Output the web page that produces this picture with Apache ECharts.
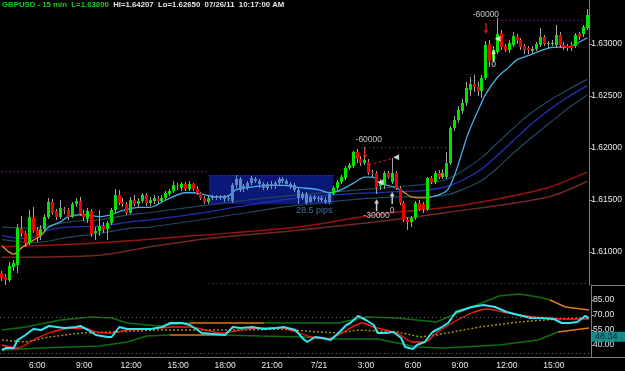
<!DOCTYPE html>
<html><head><meta charset="utf-8">
<script src="https://cdn.jsdelivr.net/npm/echarts@6/dist/echarts.min.js"></script>
<style>html,body{margin:0;padding:0;background:#000;}#c{width:625px;height:371px;}</style>
</head><body><div id="c"></div>
<script>
// ---------- DATA ----------
const dates = ['7/20', '7/21'];
const startMinute = 3 * 60 + 45; // first bar 03:45, 15-minute bars
const priceTicks = [1.61, 1.615, 1.62, 1.625, 1.63];
const oscTicks = [40, 55, 70, 85];

const openP = [1.6080,1.6076,1.6073,1.6086,1.6088,1.6122,1.6118,1.6109,1.6134,1.6121,
1.6115,1.6122,1.6134,1.6148,1.6139,1.6134,1.6141,1.6140,1.6134,1.6146,
1.6149,1.6137,1.6132,1.6139,1.6118,1.6120,1.6125,1.6122,1.6128,1.6140,
1.6155,1.6148,1.6146,1.6138,1.6150,1.6146,1.6149,1.6155,1.6147,1.6149,
1.6151,1.6149,1.6152,1.6156,1.6159,1.6164,1.6162,1.6165,1.6161,1.6165,
1.6161,1.6157,1.6152,1.6148,1.6152,1.6153,1.6152,1.6153,1.6151,1.6149,
1.6164,1.6170,1.6161,1.6162,1.6166,1.6170,1.6168,1.6165,1.6162,1.6165,
1.6163,1.6166,1.6170,1.6168,1.6165,1.6164,1.6160,1.6152,1.6156,1.6148,
1.6153,1.6151,1.6152,1.6150,1.6148,1.6156,1.6162,1.6167,1.6171,1.6181,
1.6183,1.6196,1.6189,1.6186,1.6187,1.6176,1.6176,1.6163,1.6164,1.6176,
1.6167,1.6176,1.6162,1.6147,1.6131,1.6129,1.6133,1.6147,1.6146,1.6141,
1.6171,1.6167,1.6176,1.6172,1.6172,1.6186,1.6219,1.6227,1.6236,1.6243,
1.6256,1.6262,1.6259,1.6255,1.6267,1.6300,1.6285,1.6292,1.6311,1.6298,
1.6294,1.6299,1.6307,1.6304,1.6298,1.6296,1.6293,1.6295,1.6299,1.6307,
1.6300,1.6300,1.6299,1.6309,1.6299,1.6298,1.6299,1.6298,1.6310,1.6310,1.6315];

const closeP = [1.6075,1.6073,1.6087,1.6089,1.6123,1.6118,1.6109,1.6134,1.6120,1.6114,
1.6122,1.6134,1.6148,1.6138,1.6134,1.6142,1.6140,1.6134,1.6146,1.6149,
1.6137,1.6134,1.6139,1.6117,1.6120,1.6125,1.6122,1.6128,1.6140,1.6155,
1.6147,1.6146,1.6138,1.6150,1.6146,1.6149,1.6155,1.6147,1.6150,1.6152,
1.6149,1.6152,1.6157,1.6159,1.6164,1.6163,1.6165,1.6161,1.6165,1.6161,
1.6157,1.6152,1.6148,1.6152,1.6153,1.6152,1.6153,1.6151,1.6152,1.6164,
1.6170,1.6160,1.6163,1.6166,1.6171,1.6168,1.6165,1.6162,1.6165,1.6163,
1.6166,1.6170,1.6168,1.6165,1.6163,1.6160,1.6152,1.6156,1.6147,1.6153,
1.6151,1.6152,1.6150,1.6148,1.6156,1.6162,1.6167,1.6172,1.6181,1.6184,
1.6196,1.6189,1.6186,1.6188,1.6176,1.6175,1.6162,1.6166,1.6176,1.6172,
1.6176,1.6162,1.6147,1.6131,1.6129,1.6133,1.6147,1.6141,1.6141,1.6171,
1.6167,1.6176,1.6172,1.6176,1.6186,1.6219,1.6227,1.6237,1.6243,1.6258,
1.6262,1.6259,1.6255,1.6267,1.6299,1.6284,1.6294,1.6310,1.6297,1.6294,
1.6301,1.6308,1.6304,1.6297,1.6294,1.6294,1.6295,1.6300,1.6307,1.6300,
1.6301,1.6301,1.6309,1.6299,1.6297,1.6296,1.6296,1.6309,1.6307,1.6316,1.6328];

const lowP = [1.6072,1.6068,1.6071,1.6082,1.6080,1.6114,1.6105,1.6107,1.6118,1.6110,
1.6112,1.6120,1.6132,1.6136,1.6131,1.6132,1.6137,1.6131,1.6133,1.6143,
1.6135,1.6130,1.6128,1.6114,1.6112,1.6115,1.6118,1.6112,1.6126,1.6138,
1.6145,1.6143,1.6136,1.6137,1.6144,1.6143,1.6147,1.6144,1.6144,1.6146,
1.6147,1.6147,1.6150,1.6154,1.6157,1.6160,1.6159,1.6159,1.6159,1.6159,
1.6155,1.6150,1.6146,1.6146,1.6150,1.6150,1.6150,1.6148,1.6149,1.6147,
1.6162,1.6158,1.6158,1.6160,1.6164,1.6166,1.6162,1.6160,1.6160,1.6161,
1.6161,1.6164,1.6166,1.6163,1.6161,1.6158,1.6146,1.6150,1.6146,1.6147,
1.6149,1.6148,1.6148,1.6146,1.6146,1.6155,1.6160,1.6165,1.6169,1.6179,
1.6181,1.6186,1.6183,1.6184,1.6174,1.6172,1.6156,1.6160,1.6161,1.6170,
1.6165,1.6160,1.6145,1.6129,1.6121,1.6124,1.6131,1.6139,1.6138,1.6139,
1.6165,1.6165,1.6170,1.6170,1.6170,1.6184,1.6216,1.6224,1.6233,1.6240,
1.6250,1.6254,1.6250,1.6248,1.6265,1.6278,1.6283,1.6290,1.6294,1.6292,
1.6291,1.6297,1.6300,1.6294,1.6290,1.6290,1.6290,1.6293,1.6297,1.6298,
1.6296,1.6298,1.6296,1.6296,1.6294,1.6293,1.6293,1.6296,1.6304,1.6307,1.6313];

const highP = [1.6082,1.6079,1.6090,1.6092,1.6127,1.6135,1.6120,1.6140,1.6143,1.6124,
1.6126,1.6137,1.6152,1.6151,1.6141,1.6150,1.6143,1.6142,1.6148,1.6152,
1.6153,1.6140,1.6142,1.6141,1.6124,1.6140,1.6129,1.6130,1.6142,1.6161,
1.6160,1.6152,1.6148,1.6153,1.6155,1.6152,1.6157,1.6157,1.6153,1.6155,
1.6154,1.6155,1.6159,1.6161,1.6168,1.6166,1.6167,1.6167,1.6168,1.6166,
1.6163,1.6158,1.6154,1.6154,1.6155,1.6155,1.6155,1.6155,1.6154,1.6166,
1.6174,1.6172,1.6165,1.6168,1.6173,1.6172,1.6170,1.6167,1.6167,1.6168,
1.6168,1.6172,1.6172,1.6170,1.6167,1.6166,1.6162,1.6158,1.6158,1.6155,
1.6155,1.6154,1.6154,1.6153,1.6158,1.6163,1.6169,1.6174,1.6183,1.6186,
1.6197,1.6199,1.6192,1.6201,1.6189,1.6179,1.6178,1.6170,1.6178,1.6178,
1.6190,1.6178,1.6163,1.6149,1.6134,1.6135,1.6149,1.6150,1.6148,1.6172,
1.6173,1.6178,1.6179,1.6180,1.6196,1.6221,1.6231,1.6240,1.6247,1.6263,
1.6268,1.6270,1.6263,1.6270,1.6303,1.6304,1.6298,1.6325,1.6313,1.6300,
1.6304,1.6312,1.6310,1.6306,1.6300,1.6298,1.6298,1.6302,1.6315,1.6309,
1.6303,1.6304,1.6318,1.6312,1.6302,1.6300,1.6302,1.6311,1.6312,1.6318,1.6334];

// moving averages: [bar index, price]
const emaFast = [[0,1.6106],[3,1.6098],[5,1.6104],[7,1.6109],[10,1.6116],[12,1.6124],[15,1.6129],[17,1.6134],[21,1.6136],[25,1.6134],[28,1.6136],[31,1.6140],[35,1.6143],[38,1.6143],[42,1.6150],[47,1.6157],[49,1.6157],[52,1.6155],[55,1.6153],[58,1.6154],[60,1.6160],[63,1.6162],[68,1.6164],[72,1.6164],[76,1.6162],[81,1.6160],[84,1.6157],[87,1.6160],[90,1.6166],[93,1.6172],[95,1.6172],[97,1.6166],[100,1.6163],[102,1.6160],[105,1.6153],[108,1.6152],[110,1.6153],[112,1.6155],[114,1.6159],[115,1.6165],[116,1.6174],[117,1.6185],[118,1.6197],[119,1.6209],[120,1.6219],[122,1.6236],[124,1.6252],[127,1.6268],[130,1.6278],[132,1.6285],[135,1.6289],[137,1.6292],[140,1.6296],[142,1.6297],[145,1.6297],[147,1.6300],[150,1.6306]];
const emaMid = [[0,1.6116],[5,1.6113],[8,1.6114],[12,1.6121],[17,1.6124],[25,1.6125],[33,1.6129],[38,1.6131],[50,1.6137],[63,1.6145],[76,1.6152],[89,1.6156],[102,1.6158],[108,1.6159],[114,1.6163],[118,1.6169],[123,1.6180],[127,1.6193],[131,1.6207],[135,1.6221],[140,1.6236],[145,1.6249],[150,1.6260]];
const envUp = [[0,1.6124],[8,1.6123],[17,1.6129],[25,1.6131],[33,1.6136],[38,1.6138],[63,1.6150],[76,1.6155],[102,1.6163],[108,1.6165],[114,1.6170],[118,1.6178],[123,1.6191],[127,1.6205],[131,1.6219],[135,1.6232],[140,1.6245],[145,1.6256],[150,1.6266]];
const envDn = [[0,1.6112],[8,1.6109],[17,1.6114],[25,1.6118],[33,1.6123],[38,1.6124],[63,1.6138],[76,1.6145],[102,1.6153],[108,1.6153],[114,1.6155],[118,1.6160],[123,1.6169],[127,1.6181],[131,1.6195],[135,1.6208],[140,1.6223],[145,1.6238],[150,1.6251]];
const emaSlow = [[0,1.6105],[25,1.6109],[50,1.6116],[76,1.6124],[96,1.6136],[114,1.6143],[127,1.6151],[140,1.6162],[150,1.6177]];
const smaSlow = [[0,1.6095],[25,1.6097],[38,1.6105],[53,1.6113],[76,1.6121],[96,1.6129],[114,1.6138],[140,1.6153],[150,1.6168]];

// oscillator panel: [bar index, value]
const oscMain = [[0,35],[1,37],[3,37],[4,45],[6,50],[8,56],[10,55],[12,59],[14,58],[16,57],[19,58],[20,59],[22,55],[24,50],[27,48],[28,48],[30,58],[32,56],[35,56],[38,56],[41,58],[43,62],[46,62],[48,60],[50,55],[51,52],[54,51],[57,50],[59,58],[61,57],[64,58],[67,56],[70,57],[72,58],[75,55],[77,46],[78,43],[80,48],[82,47],[84,45],[86,52],[88,60],[89,62],[91,69],[93,65],[95,60],[96,52],[98,52],[100,53],[102,47],[103,38],[105,36],[106,40],[108,43],[110,53],[112,57],[114,62],[116,73],[120,78],[123,80],[126,78],[129,73],[132,70],[135,67],[138,67],[141,66],[143,62],[145,62],[147,63],[149,69],[150,67]];
const oscSignal = [[0,40],[4,37],[8,45],[12,52],[16,56],[21,57],[24,53],[28,52],[32,55],[38,56],[44,58],[48,58],[52,55],[56,52],[61,55],[66,57],[71,57],[76,52],[79,48],[83,46],[86,50],[89,57],[92,62],[95,58],[98,55],[101,52],[105,43],[108,43],[111,52],[115,62],[120,72],[124,76],[128,73],[132,70],[136,68],[140,67],[144,66],[148,66],[150,66]];
const oscSlow = [[0,45],[6,43],[12,48],[20,52],[28,53],[40,55],[50,55],[61,55],[71,56],[81,53],[86,52],[91,55],[101,53],[107,48],[111,50],[122,58],[132,63],[142,66],[150,67]];
const oscBandHi = [[0,55],[6,58],[15,65],[23,68],[28,67],[32,62],[40,59],[48,62],[67,62],[76,62],[86,62],[93,68],[101,67],[111,63],[120,78],[127,89],[132,91],[137,88],[140,85],[144,78],[150,75]];
const oscBandLo = [[0,35],[10,37],[25,39],[32,43],[37,49],[43,50],[56,50],[66,49],[77,48],[86,46],[96,46],[106,38],[113,37],[127,40],[137,45],[142,53],[150,57]];
const oscLastValue = 48.34;
const oscLevels = [68, 32];

// annotations
const box = {from: 53, to: 85, top: 1.6174, bottom: 1.6146, label: '28.5 pips', labelAt: [80, 1.6140]};
const levelLines = [{from:0,to:53,price:1.6178},{from:53,to:85,price:1.6174},{from:92,to:114,price:1.6201},{from:125,to:150,price:1.6323},{from:53,to:150,price:1.6070},{from:119,to:122,price:1.6271}];
const trendDash = [[94,1.6184],[100,1.6190]];
const upArrows = [[96,1.6145],[100,1.6152],[126,1.6289]];
const downArrows = [[93,1.6195],[124,1.6315]];
const leftMarks = [[101,1.6191],[97,1.6167],[127,1.6305]];
const notes = [{text:'-60000',at:[94,1.6208]},{text:'-30000',at:[96,1.6135]},{text:'0',at:[100,1.6140]},{text:'-60000',at:[124,1.6328]},{text:'0',at:[126,1.6280]}];
const header = {symbol:'GBPUSD - 15 min', last:'L=1.63800', rest:'Hi=1.64207  Lo=1.62650  07/26/11  10:17:00 AM'};

// ---------- CHART ----------
const FONT = 'Liberation Sans, Arial, sans-serif';
const N = openP.length;
const categories = [];
for (let i = 0; i < N; i++) {
  const m = startMinute + 15 * i, d = Math.floor(m / 1440), mm = m % 1440;
  const h = Math.floor(mm / 60), mi = mm % 60;
  categories.push(h === 0 && mi === 0 ? dates[d] : h + ':' + (mi < 10 ? '0' : '') + mi);
}
const candleData = openP.map((o, i) => [i, o, closeP[i], lowP[i], highP[i]]);

const ORANGE = '#d8921c', LIGHTBLUE = '#4aaee6', GREEN = '#0d6e0d', BANDORANGE = '#e0780e';

function renderCandle(params, api) {
  const i = api.value(0), o = api.value(1), c = api.value(2), l = api.value(3), h = api.value(4);
  const pO = api.coord([i, o]), pC = api.coord([i, c]), pL = api.coord([i, l]), pH = api.coord([i, h]);
  const cx = Math.round(pO[0] - 0.5);
  const inBox = i > box.from && i < box.to;
  const bodyColor = inBox ? '#5a88c2' : (c >= o ? '#00e400' : '#f20000');
  const wickColor = inBox ? '#6f9ad0' : '#a4a4a4';
  const top = Math.round(Math.min(pO[1], pC[1])), bot = Math.round(Math.max(pO[1], pC[1]));
  return {type: 'group', children: [
    {type: 'rect', shape: {x: cx, y: Math.round(pH[1]), width: 1, height: Math.max(1, Math.round(pL[1]) - Math.round(pH[1]))}, style: {fill: wickColor}},
    {type: 'rect', shape: {x: cx - 1, y: top, width: 3, height: Math.max(1, bot - top)}, style: {fill: bodyColor}}
  ]};
}

function mainLine(name, data, color, width, extra) {
  return Object.assign({type: 'line', name, data, xAxisIndex: 0, yAxisIndex: 0, symbol: 'none', smooth: 0.3,
    lineStyle: color ? {color, width} : {width}, silent: true, z: 2}, extra || {});
}
function oscLine(name, data, color, width, extra) {
  return Object.assign({type: 'line', name, data, xAxisIndex: 1, yAxisIndex: 1, symbol: 'none',
    lineStyle: color ? {color, width} : {width}, silent: true, z: 2}, extra || {});
}

const series = [
  mainLine('smaSlow', smaSlow, '#6e2a22', 1.5, {z: 1, markArea: {silent: true, itemStyle: {color: '#0c1877'},
    data: [[{xAxis: box.from, yAxis: box.top}, {xAxis: box.to, yAxis: box.bottom}]]}}),
  mainLine('emaSlow', emaSlow, '#9c1010', 1.5),
  mainLine('envUp', envUp, '#23465e', 1.2),
  mainLine('envDn', envDn, '#23465e', 1.2),
  mainLine('emaMid', emaMid, '#2030b8', 1.3),
  mainLine('emaFast', emaFast, null, 1.3),
  {type: 'custom', name: 'price', xAxisIndex: 0, yAxisIndex: 0, data: candleData, renderItem: renderCandle,
    encode: {x: 0, y: [1, 2, 3, 4]}, z: 3, clip: true, silent: true},
  {type: 'scatter', name: 'notes', xAxisIndex: 0, yAxisIndex: 0, z: 5, silent: true, symbolSize: 1,
    itemStyle: {color: 'rgba(0,0,0,0)'},
    data: notes.map(n => ({name: n.text, value: n.at})).concat([{name: box.label, value: box.labelAt,
      label: {color: '#5a8ac6', fontSize: 9}}]),
    label: {show: true, position: 'inside', formatter: '{b}', color: '#f0f0f0', fontSize: 8.5, fontFamily: FONT},
    markLine: {silent: true, symbol: 'none', label: {show: false}, animation: false,
      data: levelLines.map(d => [{coord: [d.from, d.price], lineStyle: {color: '#8a2b9a', type: [1, 3], width: 1}},
                                  {coord: [d.to, d.price]}])
        .concat([[{coord: trendDash[0], lineStyle: {color: '#c81e1e', type: [3, 2], width: 1}}, {coord: trendDash[1]}]])}},
  {type: 'scatter', name: 'up', xAxisIndex: 0, yAxisIndex: 0, z: 6, silent: true, data: upArrows,
    symbol: 'path://M5,0 L10,5 L6.5,5 L6.5,14 L3.5,14 L3.5,5 L0,5 Z', symbolSize: [5, 12], itemStyle: {color: '#ffffff'}},
  {type: 'scatter', name: 'down', xAxisIndex: 0, yAxisIndex: 0, z: 6, silent: true, data: downArrows,
    symbol: 'path://M3.5,0 L6.5,0 L6.5,9 L10,9 L5,14 L0,9 L3.5,9 Z', symbolSize: [5, 11], itemStyle: {color: '#ff1010'}},
  {type: 'scatter', name: 'marks', xAxisIndex: 0, yAxisIndex: 0, z: 6, silent: true, data: leftMarks,
    symbol: 'triangle', symbolRotate: 90, symbolSize: 6, itemStyle: {color: '#ffffff'}},
  // oscillator panel
  oscLine('bandHi', oscBandHi, null, 1.5),
  oscLine('bandLo', oscBandLo, null, 1.5),
  oscLine('slow', oscSlow, '#a88c10', 1.5, {lineStyle: {color: '#a88c10', width: 1.5, type: [2, 2]}}),
  oscLine('signal', oscSignal, '#ff1a1a', 1.3, {smooth: 0.3}),
  oscLine('main', oscMain, '#33e6f2', 2, {z: 3,
    markLine: {silent: true, symbol: 'none', animation: false,
      data: oscLevels.map(v => ({yAxis: v, lineStyle: {color: '#6a6a6a', type: [1, 3], width: 1}, label: {show: false}}))
        .concat([{yAxis: oscLastValue, lineStyle: {color: 'rgba(0,0,0,0)', width: 1, type: 'solid'},
          label: {show: true, position: 'end', distance: 1, formatter: oscLastValue.toFixed(2), backgroundColor: '#17898a',
            color: '#0b2a2a', fontSize: 9, fontFamily: FONT, padding: [1, 10, 0, 3]}}])}})
];
const idx = name => series.findIndex(s => s.name === name);

const option = {
  animation: false,
  backgroundColor: '#000000',
  title: {left: 1, top: 0, padding: [1, 1], text: '{g|' + header.symbol + '  ' + header.last + '  }{w|' + header.rest + '}',
    textStyle: {rich: {g: {color: '#22c922', fontSize: 7.8, fontFamily: FONT}, w: {color: '#e6e6e6', fontSize: 7.8, fontFamily: FONT}}}},
  grid: [
    {left: 0, right: 34, top: 0, height: 285},
    {left: 0, right: 34, top: 285, height: 72}
  ],
  xAxis: [
    {type: 'category', gridIndex: 0, data: categories, boundaryGap: true, show: false},
    {type: 'category', gridIndex: 1, data: categories, boundaryGap: true,
      axisLine: {show: true, onZero: false, lineStyle: {color: '#7c7c7c'}}, axisTick: {show: false},
      axisLabel: {color: '#e8e8e8', fontSize: 8.5, fontFamily: FONT, margin: 4,
        interval: (i) => ((startMinute + 15 * i) % 1440) % 180 === 0},
      splitLine: {show: false}}
  ],
  yAxis: [
    {type: 'value', gridIndex: 0, position: 'right', min: 1.60683, max: 1.63423,
      axisLine: {show: true, lineStyle: {color: '#7c7c7c'}},
      axisTick: {show: true, length: 3, customValues: priceTicks, lineStyle: {color: '#9a9a9a'}},
      axisLabel: {customValues: priceTicks, formatter: v => v.toFixed(5), color: '#e8e8e8', fontSize: 8.5, fontFamily: FONT, margin: 2},
      splitLine: {show: false}},
    {type: 'value', gridIndex: 1, position: 'right', min: 28, max: 100,
      axisLine: {show: true, lineStyle: {color: '#7c7c7c'}},
      axisTick: {show: true, length: 3, customValues: oscTicks, lineStyle: {color: '#9a9a9a'}},
      axisLabel: {customValues: oscTicks, formatter: v => v.toFixed(2), color: '#e8e8e8', fontSize: 8.5, fontFamily: FONT, margin: 2},
      splitLine: {show: false}}
  ],
  visualMap: [
    {show: false, type: 'piecewise', seriesIndex: idx('emaFast'), dimension: 0,
      pieces: [{lt: 11, color: ORANGE}, {gte: 11, lt: 103, color: LIGHTBLUE}, {gte: 103, lt: 110, color: ORANGE}, {gte: 110, color: LIGHTBLUE}]},
    {show: false, type: 'piecewise', seriesIndex: idx('bandHi'), dimension: 0,
      pieces: [{lt: 48, color: GREEN}, {gte: 48, lt: 67, color: BANDORANGE}, {gte: 67, lt: 140, color: GREEN}, {gte: 140, color: BANDORANGE}]},
    {show: false, type: 'piecewise', seriesIndex: idx('bandLo'), dimension: 0,
      pieces: [{lt: 43, color: GREEN}, {gte: 43, lt: 56, color: BANDORANGE}, {gte: 56, lt: 142, color: GREEN}, {gte: 142, color: BANDORANGE}]}
  ],
  graphic: [
    {type: 'line', shape: {x1: 591, y1: 285.5, x2: 625, y2: 285.5}, style: {stroke: '#7c7c7c', lineWidth: 1}, silent: true},
    {type: 'line', shape: {x1: 591, y1: 357.5, x2: 625, y2: 357.5}, style: {stroke: '#7c7c7c', lineWidth: 1}, silent: true}
  ],
  series
};
const chart = echarts.init(document.getElementById('c'), null, {renderer: 'canvas'});
chart.setOption(option);
</script></body></html>
